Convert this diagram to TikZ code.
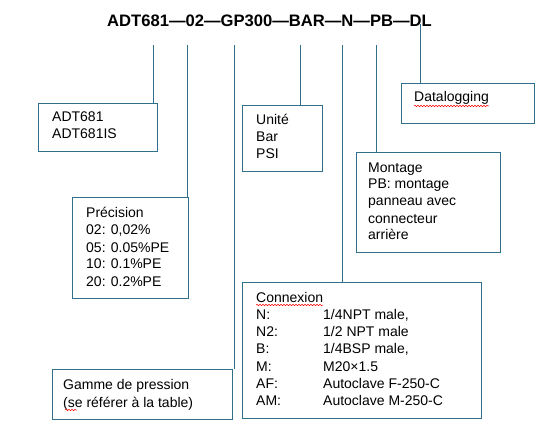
\documentclass[tikz,border=0pt]{standalone}
\usepackage{fontspec}
\setmainfont{Liberation Sans}
\usetikzlibrary{decorations.pathmorphing}
\definecolor{lc}{RGB}{49,112,138}
\begin{document}
\begin{tikzpicture}[x=1pt,y=-1pt,
  box/.style={draw=lc, line width=0.9pt, anchor=north west, inner sep=0pt},
  txt/.style={anchor=base west, inner sep=0pt, font=\fontsize{14}{17}\selectfont},
  conn/.style={draw=lc, line width=0.9pt},
  squig/.style={draw=red, line width=0.5pt, decorate, decoration={snake, amplitude=0.7pt, segment length=3pt}}]
\useasboundingbox (0,0) rectangle (550,436);
\fill[white] (0,0) rectangle (550,436);
% title
\node[anchor=base west, inner sep=0pt, font=\fontsize{16.6}{20}\selectfont\bfseries] (title) at (107,27) {ADT681—02—GP300—BAR—N—PB—DL};
% boxes
\node[box, minimum width=119pt, minimum height=48pt] (adt) at (38,103) {};
\node[box, minimum width=116pt, minimum height=101pt] (prec) at (72,197) {};
\node[box, minimum width=180pt, minimum height=50pt] (gamme) at (52,369) {};
\node[box, minimum width=80pt, minimum height=66pt] (unite) at (242,105) {};
\node[box, minimum width=239pt, minimum height=136pt] (cnx) at (242,282) {};
\node[box, minimum width=144pt, minimum height=100pt] (mont) at (356,152) {};
\node[box, minimum width=133pt, minimum height=40pt] (dl) at (401,83) {};
% texts
\node[txt] (a1) at (52,122) {ADT681};
\node[txt] (a2) at (52,139) {ADT681IS};
\foreach \t [count=\i from 0] in {Précision,02: 0{,}02\%,05: 0.05\%PE,10: 0.1\%PE,20: 0.2\%PE}
  \node[txt] (p\i) at (86,218+17*\i) {\t};
\node[txt] (g1) at (63,389) {Gamme de pression};
\node[txt] (g2) at (63,407) {(se référer à la table)};
\foreach \t [count=\i from 0] in {Unité,Bar,PSI}
  \node[txt] (u\i) at (256,125+17*\i) {\t};
\foreach \t [count=\i from 0] in {Montage,PB: montage,panneau avec,connecteur,arrière}
  \node[txt] (m\i) at (368,172+17*\i) {\t};
\node[txt] (d1) at (414,102) {Datalogging};
\node[txt] (c0) at (256,302) {Connexion};
\foreach \l/\v [count=\i] in {N:/{1/4NPT male,},N2:/{1/2 NPT male},B:/{1/4BSP male,},M:/M20×1.5,AF:/Autoclave F-250-C,AM:/Autoclave M-250-C}{
  \node[txt] (cl\i) at (256,302+17.3*\i) {\l};
  \node[txt] (cv\i) at (323,302+17.3*\i) {\v};
}
% spell-check squiggles
\draw[squig] (d1.south west |- 0,106) -- (d1.south east |- 0,106);
\draw[squig] (c0.south west |- 0,305) -- (c0.south east |- 0,305);
\draw[squig] (65,410) -- (77,410);
% connector tops
\coordinate (pA) at (153,45);
\coordinate (pB) at (187,45);
\coordinate (pC) at (234,45);
\coordinate (pD) at (300,45);
\coordinate (pE) at (342,45);
\coordinate (pF) at (376,45);
\coordinate (pG) at (420,24);
\draw[conn] (pA) -- (pA |- adt.north);
\draw[conn] (pB) -- (pB |- prec.north);
\draw[conn] (pC) -- (pC |- gamme.north);
\draw[conn] (pD) -- (pD |- unite.north);
\draw[conn] (pE) -- (pE |- cnx.north);
\draw[conn] (pF) -- (pF |- mont.north);
\draw[conn] (pG) -- (pG |- dl.north);
\end{tikzpicture}
\end{document}
